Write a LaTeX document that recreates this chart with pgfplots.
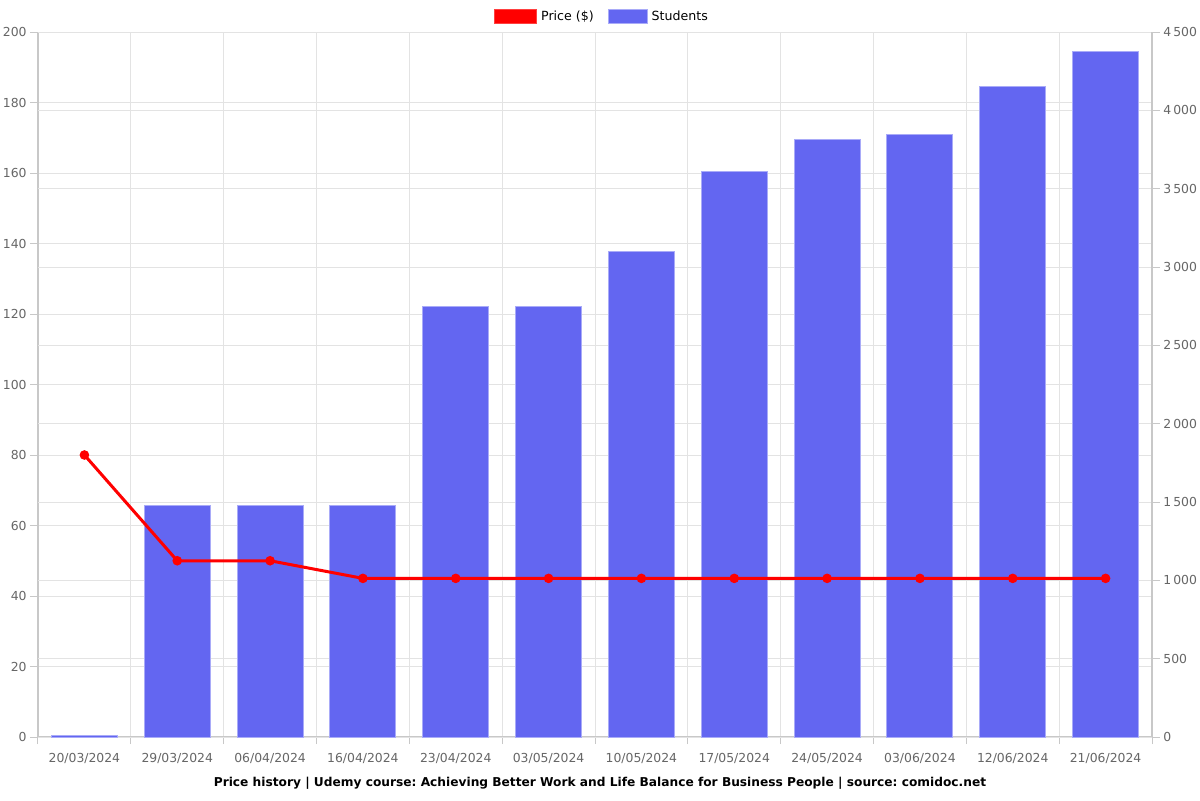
\documentclass[border=0pt]{standalone}
\usepackage{fontspec}
\setmainfont{DejaVu Sans}
\usepackage{pgfplots}
\pgfplotsset{compat=1.18}
\frenchspacing
\definecolor{barc}{HTML}{6366F1}
\definecolor{barb}{HTML}{A9ABF8}
\definecolor{tickc}{HTML}{666666}
\definecolor{gridc}{HTML}{E3E3E3}
\definecolor{axisc}{HTML}{C8C8C8}
\pgfplotsset{base/.style={
  width=557pt, height=352.5pt, scale only axis,
  at={(0,0)}, anchor=south west,
  xmin=-0.5, xmax=11.5,
  ticklabel style={font=\fontsize{6.2}{8}\selectfont, text=tickc, inner sep=1.5pt},
  /pgf/number format/assume math mode=true,
  tick align=outside,
  major tick length=4pt,
  minor tick length=3.5pt,
  tick style={draw=axisc, line width=0.5pt},
  axis line style={draw=axisc, line width=0.6pt},
  grid style={draw=gridc, line width=0.5pt},
}}
\begin{document}
\begin{tikzpicture}[x=0.5pt,y=0.5pt]
\useasboundingbox (-38,-63) rectangle (1162,737);
% price axis: left ticks, grids, x labels
\begin{axis}[base,
  ymin=0, ymax=200, ytick={0,20,...,200},
  axis y line*=left, axis x line*=bottom,
  ymajorgrids, xminorgrids,
  xtick={0,...,11},
  xticklabels={20/03/2024,29/03/2024,06/04/2024,16/04/2024,23/04/2024,03/05/2024,10/05/2024,17/05/2024,24/05/2024,03/06/2024,12/06/2024,21/06/2024},
  major x tick style={draw=none},
  minor xtick={-0.5,0.5,...,11.5},
  xticklabel style={yshift=-2.5pt},
]
\addplot[draw=none] coordinates {(0,0)};
\end{axis}
% students axis: right ticks, bars
\begin{axis}[base,
  ymin=0, ymax=4500, ytick={0,500,...,4500},
  yticklabels={0,500,1\,000,1\,500,2\,000,2\,500,3\,000,3\,500,4\,000,4\,500},
  axis y line*=right, axis x line=none,
  ymajorgrids,
]
\addplot[ybar, bar width=33pt, fill=barc, draw=barb, line width=0.5pt] coordinates {
(0,12) (1,1480) (2,1480) (3,1480) (4,2745) (5,2745) (6,3102) (7,3612) (8,3815) (9,3845) (10,4150) (11,4375)};
\end{axis}
% price line + legend
\begin{axis}[base,
  ymin=0, ymax=200, hide axis,
  legend style={at={(0.5,1)}, anchor=center, xshift=4pt, yshift=7.5pt, draw=none, fill=none,
    legend columns=2, font=\fontsize{6.3}{8}\selectfont,
    /tikz/every even column/.append style={column sep=5pt},
    legend cell align=left},
]
\addplot[red, line width=1.5pt, mark=*, mark size=1.6pt, mark options={fill=red},
  legend image code/.code={\draw[fill=red, draw=red!75, line width=0.5pt] (0pt,-3.5pt) rectangle (21pt,3.5pt);}] coordinates {
(0,80) (1,50) (2,50) (3,45) (4,45) (5,45) (6,45) (7,45) (8,45) (9,45) (10,45) (11,45)};
\addlegendentry{Price (\$)}
\addlegendimage{legend image code/.code={\draw[fill=barc, draw=barb, line width=0.5pt] (0pt,-3.5pt) rectangle (19.5pt,3.5pt);}}
\addlegendentry{Students}
\end{axis}
\node[font=\bfseries\fontsize{6.1}{8}\selectfont] at (562,-46) {Price history | Udemy course: Achieving Better Work and Life Balance for Business People | source: comidoc.net};
\end{tikzpicture}
\end{document}
